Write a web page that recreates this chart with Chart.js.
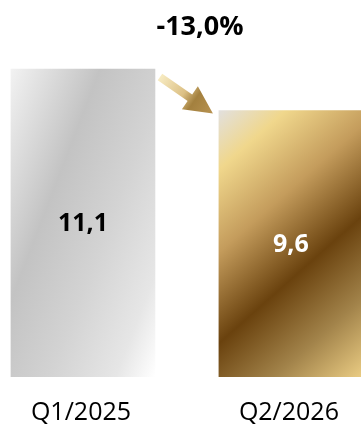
<!DOCTYPE html>
<html>
<head>
<meta charset="utf-8">
<script src="https://cdn.jsdelivr.net/npm/chart.js@4"></script>
<style>
  html, body { margin: 0; padding: 0; background: #ffffff; }
  #wrap { width: 361px; height: 428px; }
</style>
</head>
<body>
<div id="wrap"><canvas id="myChart" width="361" height="428"></canvas></div>
<script>
// data
const categories = ['Q1/2025', 'Q2/2026'];
const values = [11.1, 9.6];
const valueLabels = ['11,1', '9,6'];
const changeLabel = '-13,0%';

const FONT = '"Open Sans", "Noto Sans", sans-serif';
const BAR_W = 144;

// silver fill for the first bar, gold for the second
function silverFill(ctx, b) {
    const w = b.right - b.left, h = b.bottom - b.top;
    const L = w * 0.933 + h * 0.359;
    const g = ctx.createLinearGradient(b.left, b.top, b.left + L * 0.933, b.top + L * 0.359);
    g.addColorStop(0, '#f2f2f2');
    g.addColorStop(0.34, '#c3c3c3');
    g.addColorStop(0.6, '#d3d3d3');
    g.addColorStop(0.85, '#e6e6e6');
    g.addColorStop(1, '#ffffff');
    return g;
}

function goldFill(ctx, b) {
    const w = b.right - b.left, h = b.bottom - b.top;
    const L = w * 0.664 + h * 0.748;
    const g = ctx.createLinearGradient(b.left, b.top, b.left + L * 0.664, b.top + L * 0.748);
    g.addColorStop(0, '#e2e0de');
    g.addColorStop(0.15, '#f0d78c');
    g.addColorStop(0.36, '#c49c5c');
    g.addColorStop(0.59, '#6a420e');
    g.addColorStop(0.8, '#a2834a');
    g.addColorStop(1, '#ebcd84');
    return g;
}

// bar rectangle from the scales
function barBoxFromScales(chart, i) {
    const xs = chart.scales.x, ys = chart.scales.y;
    const cx = xs.getPixelForValue(i);
    return { left: cx - BAR_W / 2, right: cx + BAR_W / 2, top: ys.getPixelForValue(values[i]), bottom: ys.getPixelForValue(0) };
}

// labels, arrow and change text
const decorPlugin = {
    id: 'decor',
    afterDatasetsDraw(chart) {
        const ctx = chart.ctx;
        const bars = chart.getDatasetMeta(0).data;
        const xScale = chart.scales.x;

        ctx.save();
        ctx.textAlign = 'center';
        ctx.textBaseline = 'middle';

        // values inside the bars
        bars.forEach(function(bar, i) {
            ctx.font = 'bold 25px ' + FONT;
            ctx.fillStyle = i === 0 ? '#000000' : '#ffffff';
            ctx.fillText(valueLabels[i], bar.x, (bar.y + bar.base) / 2 + 1);
        });

        // category names below
        ctx.font = '25px ' + FONT;
        ctx.fillStyle = '#000000';
        categories.forEach(function(c, i) {
            ctx.fillText(c, xScale.getPixelForValue(i) - 2, 413);
        });

        // arrow from first bar top to second bar top
        const a = barBoxFromScales(chart, 0), b = barBoxFromScales(chart, 1);
        const x0 = a.right + 5, y0 = a.top + 8;
        const x1 = b.left - 6, y1 = b.top + 3;
        const ang = Math.atan2(y1 - y0, x1 - x0);
        const len = Math.hypot(x1 - x0, y1 - y0);
        const headLen = 28, headW = 14, shaftW = 4;
        ctx.translate(x0, y0);
        ctx.rotate(ang);
        const ag = ctx.createLinearGradient(0, 0, len, 0);
        ag.addColorStop(0, '#f7ebc2');
        ag.addColorStop(0.45, '#dcc084');
        ag.addColorStop(0.65, '#a3803e');
        ag.addColorStop(1, '#b89352');
        ctx.fillStyle = ag;
        ctx.beginPath();
        ctx.moveTo(0, -shaftW);
        ctx.lineTo(len - headLen, -shaftW);
        ctx.lineTo(len - headLen, -headW);
        ctx.lineTo(len, 0);
        ctx.lineTo(len - headLen, headW);
        ctx.lineTo(len - headLen, shaftW);
        ctx.lineTo(0, shaftW);
        ctx.closePath();
        ctx.fill();
        ctx.setTransform(1, 0, 0, 1, 0, 0);

        // change text
        ctx.font = 'bold 27px ' + FONT;
        ctx.fillStyle = '#000000';
        ctx.fillText(changeLabel, 200, 27);
        ctx.restore();
    }
};

const ctx = document.getElementById('myChart');
const myChart = new Chart(ctx, {
    type: 'bar',
    data: {
        datasets: [{
            data: values.map(function(v, i) { return { x: i, y: v }; }),
            backgroundColor: function(c) {
                const chart = c.chart;
                if (!chart.chartArea || c.dataIndex === undefined) return '#cccccc';
                const b = barBoxFromScales(chart, c.dataIndex);
                return c.dataIndex === 0 ? silverFill(chart.ctx, b) : goldFill(chart.ctx, b);
            },
            borderWidth: 0,
            barThickness: BAR_W
        }]
    },
    options: {
        responsive: false,
        animation: false,
        layout: { padding: { top: 44, bottom: 51, left: 0, right: 0 } },
        plugins: {
            legend: { display: false },
            tooltip: { enabled: false }
        },
        scales: {
            x: { type: 'linear', min: -0.399, max: 1.337, offset: false, display: false },
            y: { min: 0, max: 12, display: false }
        }
    },
    plugins: [decorPlugin]
});
</script>
</body>
</html>
